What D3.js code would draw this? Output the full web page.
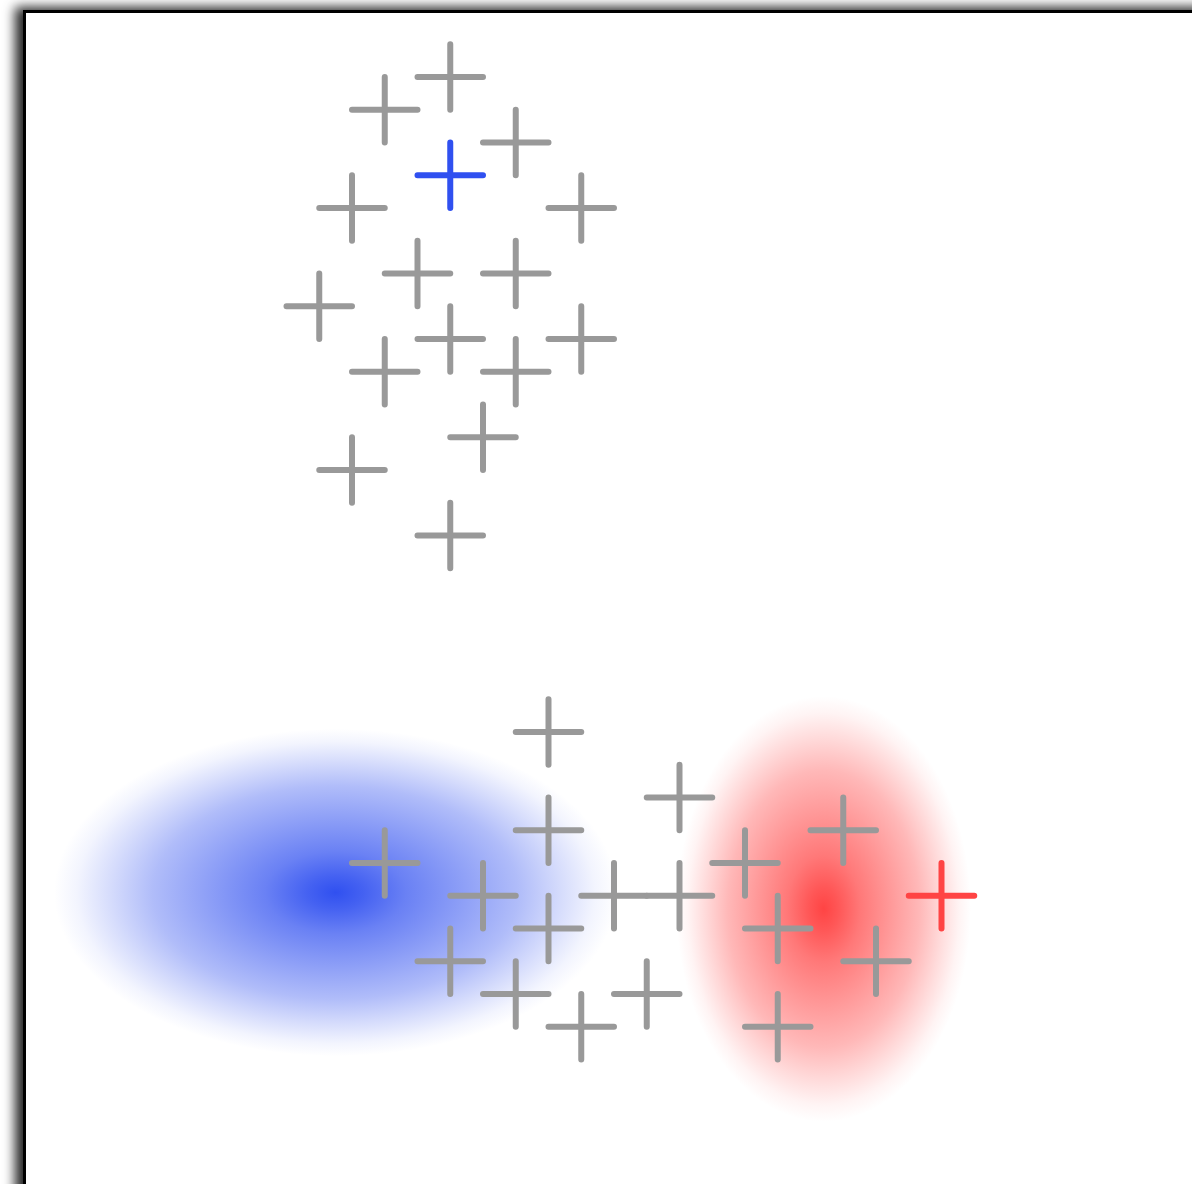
<!DOCTYPE html>
<html>
<head>
<meta charset="utf-8">
<script src="https://cdn.jsdelivr.net/npm/d3@7"></script>
<style>
  html, body { margin: 0; padding: 0; background: #fff; overflow: hidden; }
  svg { display: block; }
</style>
</head>
<body>
<script>
// Grid points of the unlabeled cluster (grid units)
const grayX = [13, 11, 15, 10, 17, 12, 15, 9, 13, 17, 11, 15, 14, 10, 13,
               16, 20, 16, 25, 11, 22, 14, 18, 20, 16, 23, 13, 26, 15, 19, 17, 23];
const grayY = [2, 3, 4, 6, 6, 8, 8, 9, 10, 10, 11, 11, 13, 14, 16,
               22, 24, 25, 25, 26, 26, 27, 27, 27, 28, 28, 29, 29, 30, 30, 31, 31];

// Highlighted points
const blueX = [13], blueY = [5];
const redX = [28], redY = [27];

// Density blobs: centre and radii in grid units
const blobNames = ["blue", "red"];
const blobCx = [9.5, 24.4];
const blobCy = [26.9, 27.4];
const blobRx = [8.6, 4.5];
const blobRy = [5.0, 6.5];
const blobColors = ["#3050f0", "#ff4444"];

const W = 1192, H = 1184;
const unit = 32.75;
const originX = 24.5, originY = 11.5;

const x = d3.scaleLinear().domain([0, 40]).range([originX, originX + 40 * unit]);
const y = d3.scaleLinear().domain([0, 40]).range([originY, originY + 40 * unit]);

const svg = d3.select("body").append("svg")
  .attr("width", W).attr("height", H);

const defs = svg.append("defs");

const shadow = defs.append("filter").attr("id", "frameShadow")
  .attr("x", "-10%").attr("y", "-10%").attr("width", "120%").attr("height", "120%");
shadow.append("feDropShadow")
  .attr("dx", -8).attr("dy", -3)
  .attr("stdDeviation", 6)
  .attr("flood-color", "#000").attr("flood-opacity", 0.85);

// Radial gradients approximating a smooth density falloff
const falloff = [[0, 1], [0.1, 0.9], [0.25, 0.72], [0.45, 0.55], [0.65, 0.38],
                 [0.8, 0.2], [0.92, 0.06], [1, 0]];
blobNames.forEach((n, i) => {
  const g = defs.append("radialGradient").attr("id", "grad-" + n);
  falloff.forEach(([o, a]) => {
    g.append("stop").attr("offset", o).attr("stop-color", blobColors[i]).attr("stop-opacity", a);
  });
});

// Frame with shadow
svg.append("rect")
  .attr("x", x(0)).attr("y", y(0))
  .attr("width", W + 40).attr("height", H + 40)
  .attr("fill", "#fff")
  .attr("stroke", "#000").attr("stroke-width", 3)
  .attr("filter", "url(#frameShadow)");

// Density blobs
svg.append("g").selectAll("ellipse")
  .data(blobNames)
  .join("ellipse")
  .attr("cx", (d, i) => x(blobCx[i]))
  .attr("cy", (d, i) => y(blobCy[i]))
  .attr("rx", (d, i) => x(blobRx[i]) - x(0))
  .attr("ry", (d, i) => y(blobRy[i]) - y(0))
  .attr("fill", d => "url(#grad-" + d + ")");

// Crosses
function drawCrosses(xs, ys, color) {
  const pts = xs.map((v, i) => [v, ys[i]]);
  svg.append("g")
    .attr("stroke", color).attr("stroke-width", 6).attr("stroke-linecap", "round")
    .selectAll("path")
    .data(pts)
    .join("path")
    .attr("d", ([a, b]) =>
      `M${x(a - 1)},${y(b)}H${x(a + 1)}M${x(a)},${y(b - 1)}V${y(b + 1)}`);
}

drawCrosses(grayX, grayY, "#999999");
drawCrosses(blueX, blueY, "#3050f0");
drawCrosses(redX, redY, "#ff4444");
</script>
</body>
</html>
